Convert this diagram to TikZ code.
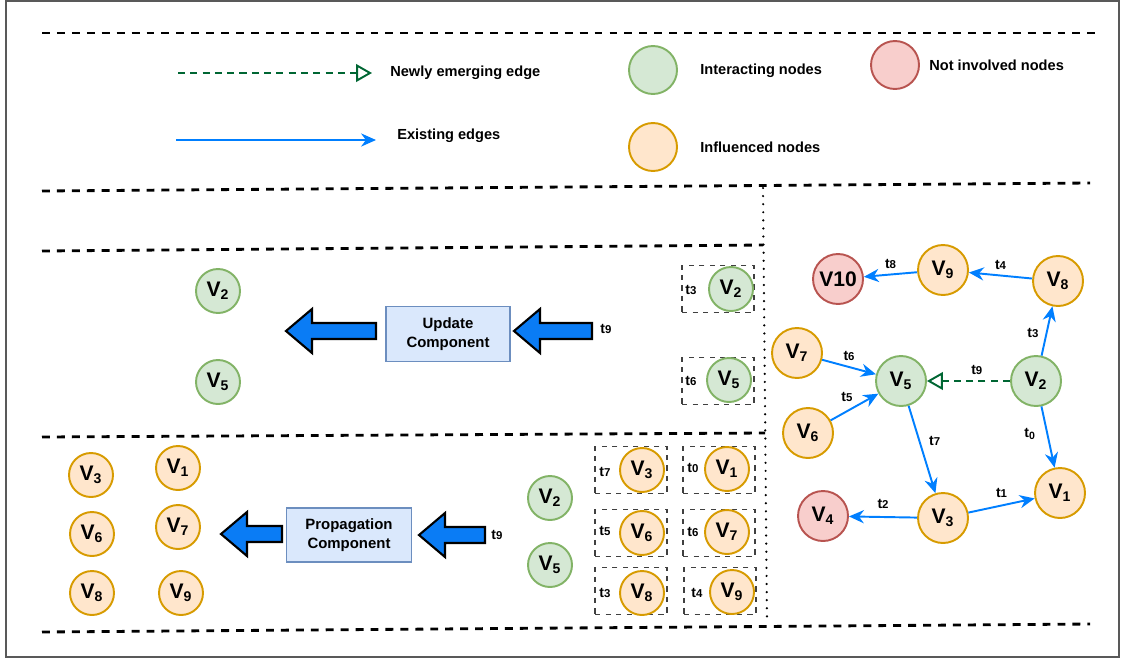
\documentclass[tikz,border=0pt]{standalone}
\usepackage{fontspec}
\setmainfont{Liberation Sans}
\usetikzlibrary{arrows.meta}

\definecolor{edgeblue}{HTML}{007FFF}
\definecolor{newgreen}{HTML}{006633}
\definecolor{intfill}{HTML}{D5E8D4}
\definecolor{intline}{HTML}{82B366}
\definecolor{inffill}{HTML}{FFE6CC}
\definecolor{infline}{HTML}{D79B00}
\definecolor{notfill}{HTML}{F8CECC}
\definecolor{notline}{HTML}{B85450}
\definecolor{compfill}{HTML}{DAE8FC}
\definecolor{compline}{HTML}{6C8EBF}
\definecolor{blockblue}{HTML}{0A7CF5}

\newcommand{\vn}[1]{V\textsubscript{#1}}
\newcommand{\tn}[1]{t{\fontsize{6.5}{7}\selectfont #1}}

\tikzset{
  vnode/.style={circle, line width=1.1pt, inner sep=0pt, minimum size=0.88cm,
    font=\fontsize{12}{14}\selectfont\bfseries},
  big/.style={minimum size=1cm},
  interact/.style={vnode, fill=intfill, draw=intline},
  influ/.style={vnode, fill=inffill, draw=infline},
  notinv/.style={vnode, fill=notfill, draw=notline},
  edge/.style={draw=edgeblue, line width=1.1pt, -{Stealth[length=8.5pt,width=7.5pt]}},
  newedge/.style={draw=newgreen, line width=1.1pt, dash pattern=on 4pt off 3pt,
    -{Triangle[open, length=9pt, width=10pt]}},
  lbl/.style={font=\fontsize{8}{9}\selectfont\bfseries, inner sep=1pt},
  legtext/.style={anchor=west, font=\fontsize{8.3}{9}\selectfont\bfseries, inner sep=0pt},
  comp/.style={draw=compline, fill=compfill, line width=1.1pt, align=center,
    font=\fontsize{8.5}{11}\selectfont\bfseries},
  tbox/.style={draw=black!75, dashed, line width=0.6pt, minimum width=1.44cm, minimum height=0.94cm},
  sep/.style={line width=1.6pt, dash pattern=on 4.5pt off 4pt},
  blockarrow/.style={draw=black, fill=blockblue, line width=1.2pt, line join=miter},
}

% tip x, tip y, total length
\newcommand{\leftblock}[3]{%
  \draw[blockarrow] (#1,#2) -- ++(26,-22) -- ++(0,14) -- ++(#3-26,0) -- ++(0,16)
    -- ++(26-#3,0) -- ++(0,14) -- cycle;}

\begin{document}
\begin{tikzpicture}[x=0.02cm, y=-0.02cm]
    \useasboundingbox (0,0) rectangle (1124,660);
    \draw[black!65, line width=0.6pt] (6,1) rectangle (1119,657);

    % Separators
    \draw[sep] (42,33) -- (1100,33);
    \draw[sep] (42,191) -- (1090,183);
    \draw[sep] (42,251) -- (763,245);
    \draw[sep] (42,437) -- (765,433);
    \draw[sep] (42,632) -- (1090,624);
    \draw[line width=1.4pt, line cap=round, dash pattern=on 0pt off 4.6pt] (763,188) -- (767,624);

    % Legend
    \coordinate (newS) at (178,73);
    \coordinate (newE) at (372,73);
    \coordinate (oldS) at (176,140);
    \coordinate (oldE) at (376,140);
    \draw[newedge] (newS) -- (newE);
    \draw[edge] (oldS) -- (oldE);
    \node[legtext] (tnew) at (390,73) {Newly emerging edge};
    \node[legtext] (told) at (397,136) {Existing edges};
    \node[interact, minimum size=0.96cm] (lgint) at (653,70) {};
    \node[influ, minimum size=0.96cm] (lginf) at (653,147) {};
    \node[notinv, minimum size=0.96cm] (lgnot) at (895,65) {};
    \node[legtext] (tint) at (700,71) {Interacting nodes};
    \node[legtext] (tinf) at (700,147) {Influenced nodes};
    \node[legtext] (tnot) at (929,65) {Not involved nodes};

    % Graph
    \node[notinv, big] (g10) at (838,279) {V10};
    \node[influ, big] (g9) at (943,270) {\vn{9}};
    \node[influ, big] (g8) at (1058,281) {\vn{8}};
    \node[influ, big] (g7) at (797,353) {\vn{7}};
    \node[interact, big] (g5) at (901,381) {\vn{5}};
    \node[interact, big] (g2) at (1036,381) {\vn{2}};
    \node[influ, big] (g6) at (808,433) {\vn{6}};
    \node[influ, big] (g3) at (943,518) {\vn{3}};
    \node[influ, big] (g1) at (1060,493) {\vn{1}};
    \node[notinv, big] (g4) at (823,516) {\vn{4}};

    \draw[edge] (g9) -- node[lbl, above=2pt] {\tn{8}} (g10);
    \draw[edge] (g8) -- node[lbl, above=2pt] {\tn{4}} (g9);
    \draw[edge] (g2) -- node[lbl, left=3pt, pos=0.45] {\tn{3}} (g8);
    \draw[edge] (g7) -- node[lbl, above=2pt] {\tn{6}} (g5);
    \draw[edge] (g6) -- node[lbl, above left=1pt, pos=0.55] {\tn{5}} (g5);
    \draw[newedge] (g2) -- node[lbl, above=2pt, pos=0.4] {\tn{9}} (g5);
    \draw[edge] (g5) -- node[lbl, right=4pt, pos=0.4] {\tn{7}} (g3);
    \draw[edge] (g2) -- node[lbl, left=5pt, pos=0.45] {t\textsubscript{0}} (g1);
    \draw[edge] (g3) -- node[lbl, above=3pt] {\tn{1}} (g1);
    \draw[edge] (g3) -- node[lbl, above=3pt] {\tn{2}} (g4);

    % Update panel
    \node[interact] (u2) at (218,291) {\vn{2}};
    \node[interact] (u5) at (218,382) {\vn{5}};
    \node[comp, minimum width=2.48cm, minimum height=1.1cm] (upd) at (448,334) {Update\\Component};
    \leftblock{286}{331}{90}
    \leftblock{514}{331}{78}
    \node[lbl] (ut9) at (606,329) {\tn{9}};
    \node[tbox] (ub2) at (718,289) {};
    \node[tbox] (ub5) at (718,381) {};
    \node[lbl] (ul3) at (691,290) {\tn{3}};
    \node[lbl] (ul6) at (691,381) {\tn{6}};
    \node[interact] (uv2) at (731,289) {\vn{2}};
    \node[interact] (uv5) at (729,380) {\vn{5}};

    % Propagation panel
    \node[influ] (p3) at (91,475) {\vn{3}};
    \node[influ] (p1) at (178,468) {\vn{1}};
    \node[influ] (p6) at (92,534) {\vn{6}};
    \node[influ] (p7) at (178,527) {\vn{7}};
    \node[influ] (p8) at (92,593) {\vn{8}};
    \node[influ] (p9) at (181,593) {\vn{9}};
    \node[comp, minimum width=2.5cm, minimum height=1.08cm] (prop) at (349,535) {Propagation\\Component};
    \leftblock{221}{534}{61}
    \leftblock{419}{535}{66}
    \node[lbl] (pt9) at (497,535) {\tn{9}};
    \node[interact] (pv2) at (550,498) {\vn{2}};
    \node[interact] (pv5) at (550,565) {\vn{5}};

    \node[tbox] (pb3) at (631,470) {};
    \node[tbox] (pb1) at (719,470) {};
    \node[tbox] (pb6) at (631,533) {};
    \node[tbox] (pb7) at (719,533) {};
    \node[tbox] (pb8) at (631,591) {};
    \node[tbox] (pb9) at (720,591) {};
    \node[lbl] (pl7) at (605,472) {\tn{7}};
    \node[lbl] (pl0) at (693,468) {\tn{0}};
    \node[lbl] (pl5) at (605,531) {\tn{5}};
    \node[lbl] (pl6) at (693,532) {\tn{6}};
    \node[lbl] (pl3) at (605,593) {\tn{3}};
    \node[lbl] (pl4) at (697,593) {\tn{4}};
    \node[influ] (pc3) at (642,470) {\vn{3}};
    \node[influ] (pc1) at (727,469) {\vn{1}};
    \node[influ] (pc6) at (642,533) {\vn{6}};
    \node[influ] (pc7) at (727,532) {\vn{7}};
    \node[influ] (pc8) at (642,593) {\vn{8}};
    \node[influ] (pc9) at (732,592) {\vn{9}};
\end{tikzpicture}
\end{document}
